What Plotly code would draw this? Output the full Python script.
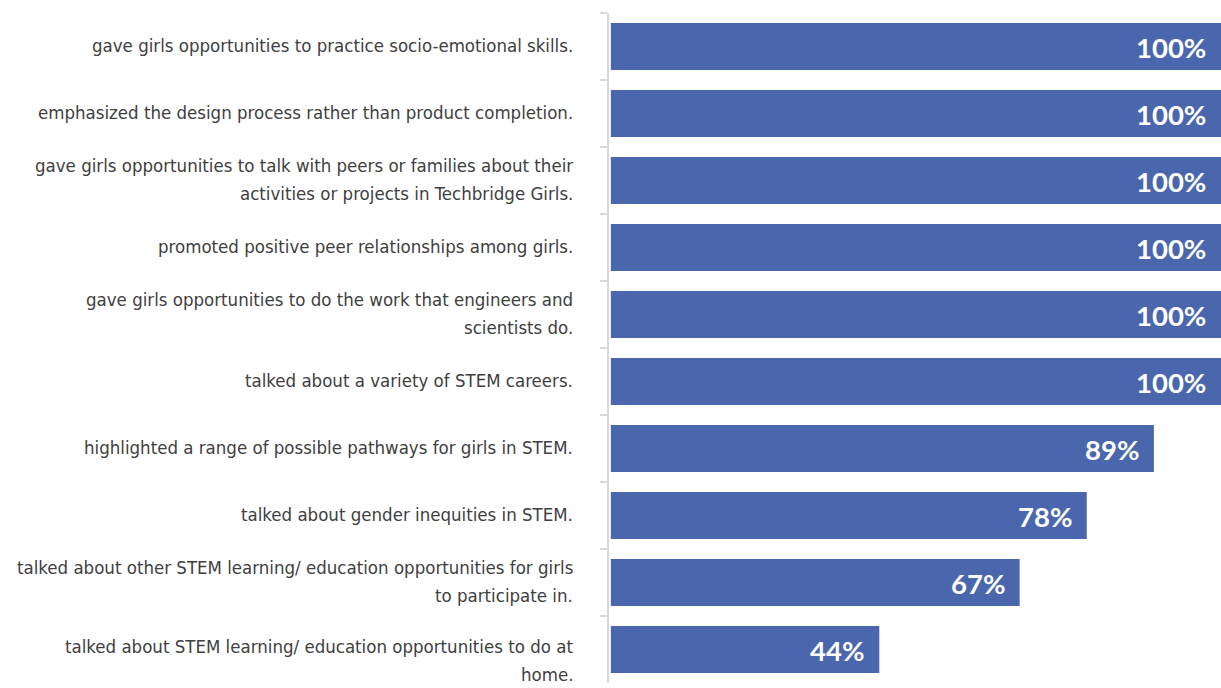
import plotly.graph_objects as go

# Survey items (top to bottom) and share of respondents agreeing
items = [
    "gave girls opportunities to practice socio-emotional skills.",
    "emphasized the design process rather than product completion.",
    "gave girls opportunities to talk with peers or families about their\nactivities or projects in Techbridge Girls.",
    "promoted positive peer relationships among girls.",
    "gave girls opportunities to do the work that engineers and\nscientists do.",
    "talked about a variety of STEM careers.",
    "highlighted a range of possible pathways for girls in STEM.",
    "talked about gender inequities in STEM.",
    "talked about other STEM learning/ education opportunities for girls\nto participate in.",
    "talked about STEM learning/ education opportunities to do at\nhome.",
]
percent = [100, 100, 100, 100, 100, 100, 89, 78, 67, 44]

BAR_COLOR = "#4a67ae"
LABEL_FONT = "Liberation Sans Narrow, Arial Narrow, DejaVu Sans Condensed, sans-serif"
LINE_GAP = 28  # px between wrapped label lines

fig = go.Figure(
    go.Bar(
        x=percent,
        y=items,
        orientation="h",
        marker=dict(color=BAR_COLOR, line=dict(width=0)),
        hoverinfo="skip",
    )
)

for k, (item, p) in enumerate(zip(items, percent)):
    # value label inside the right end of each bar
    fig.add_annotation(
        x=p, y=item, xref="x", yref="y",
        text=f"<b>{p}%</b>",
        showarrow=False, xanchor="right", xshift=-13, yshift=-1,
        font=dict(family="Lato, Open Sans, sans-serif", size=27.5, color="white"),
    )
    # category label, one annotation per wrapped line
    lines = item.split("\n")
    n = len(lines)
    # the bottom label sits a little lower, close to the lower edge
    base = -11 if k == len(items) - 1 else 1
    for i, line in enumerate(lines):
        fig.add_annotation(
            x=0, y=item, xref="paper", yref="y",
            text=line, showarrow=False,
            xanchor="right", yanchor="middle",
            xshift=-34, yshift=((n - 1) / 2 - i) * LINE_GAP + base,
            font=dict(family=LABEL_FONT, size=18.5, color="#404040"),
        )

fig.update_layout(
    width=1221, height=688,
    margin=dict(l=609, r=0, t=13, b=5),
    paper_bgcolor="white", plot_bgcolor="white",
    bargap=0.3,
    showlegend=False,
)
fig.update_xaxes(range=[-0.3, 100], visible=False, fixedrange=True)
fig.update_yaxes(
    autorange="reversed",
    showline=True, linecolor="#d9d9d9", linewidth=2,
    ticks="outside", tickson="boundaries", ticklen=7, tickcolor="#d9d9d9", tickwidth=2,
    showticklabels=False,
    showgrid=False, zeroline=False, fixedrange=True,
)

fig.write_html("out.html", config={"displayModeBar": False})
